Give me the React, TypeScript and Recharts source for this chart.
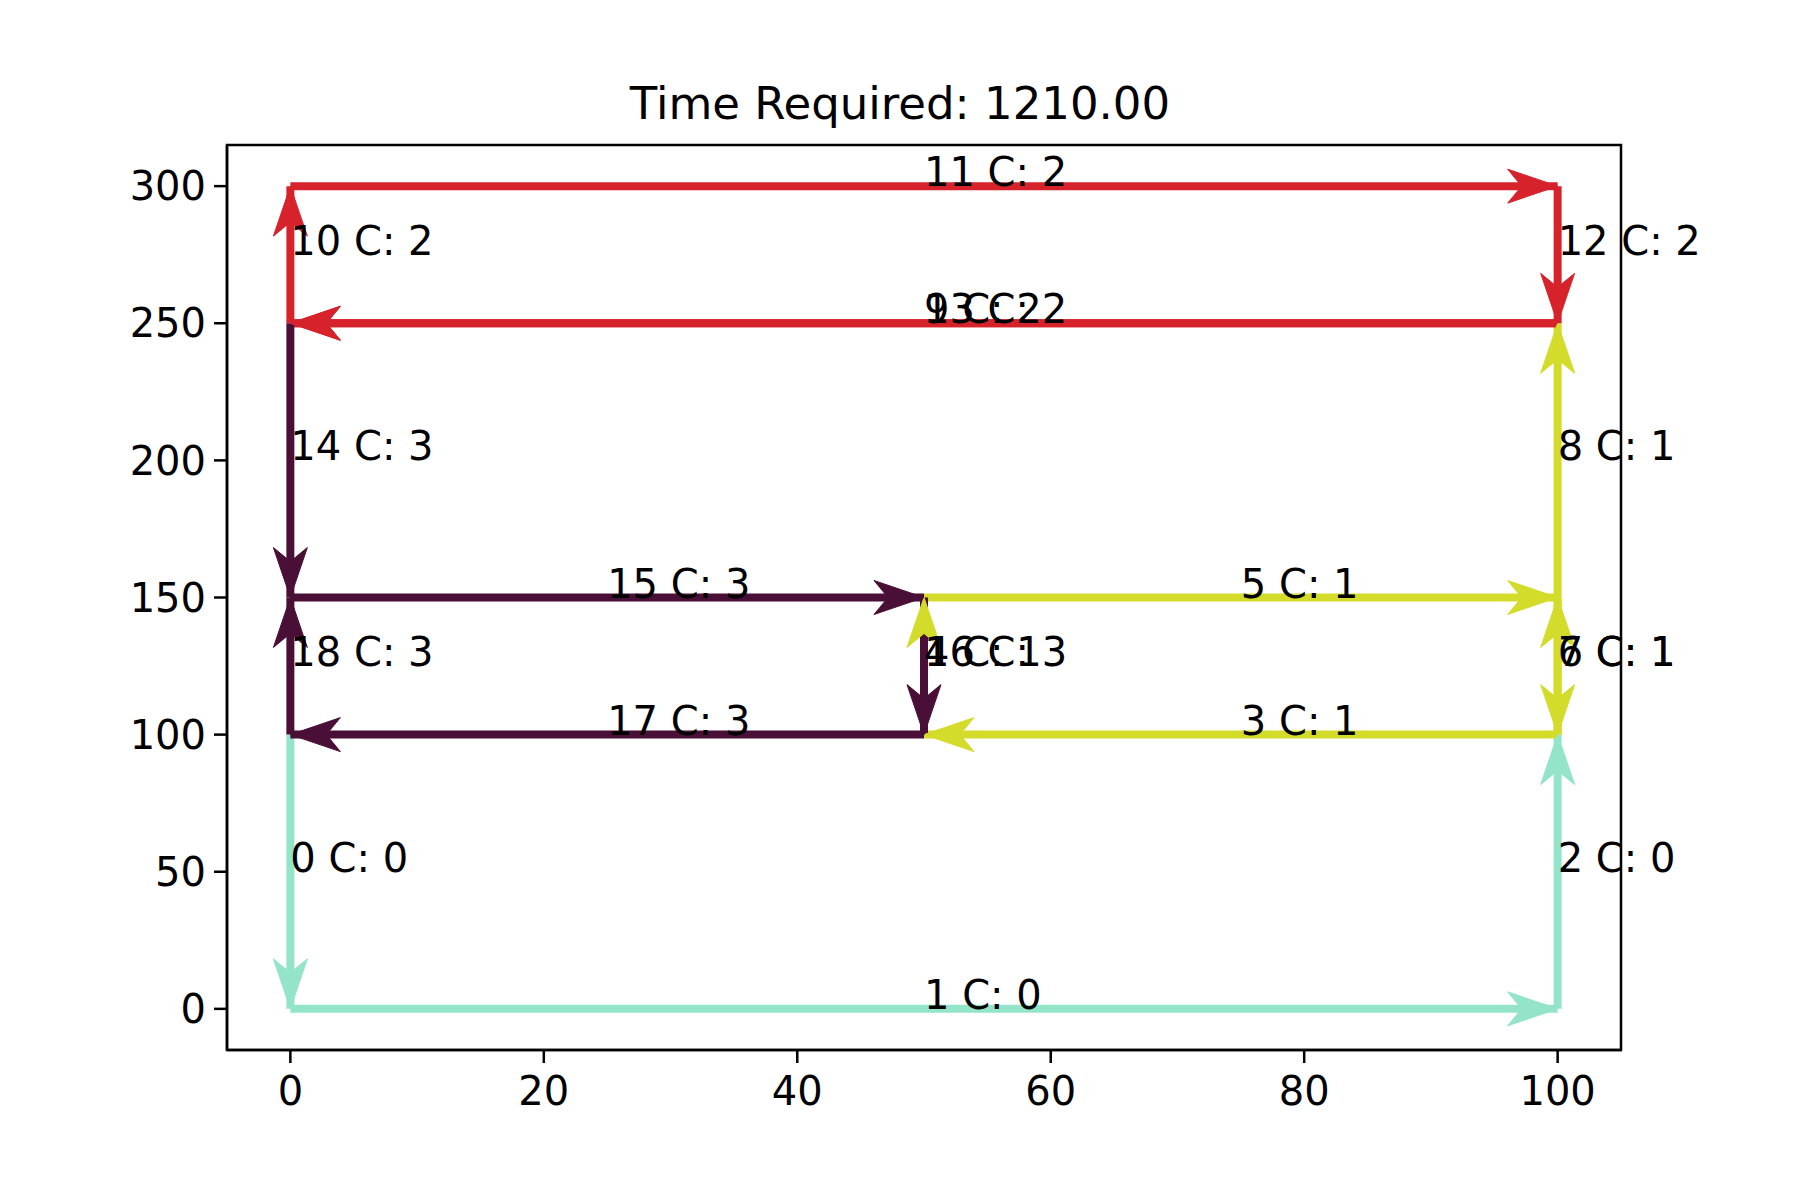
import React from 'react';
import { ComposedChart, Line, Scatter, XAxis, YAxis, ReferenceArea } from 'recharts';

const edgeIds = [0, 1, 2, 3, 4, 5, 6, 7, 8, 9, 10, 11, 12, 13, 14, 15, 16, 17, 18];
const edgeFrom: [number, number][] = [
  [0, 100], [0, 0], [100, 0], [100, 100], [50, 100], [50, 150], [100, 150], [100, 100], [100, 150], [100, 250],
  [0, 250], [0, 300], [100, 300], [100, 250], [0, 250], [0, 150], [50, 150], [50, 100], [0, 100],
];
const edgeTo: [number, number][] = [
  [0, 0], [100, 0], [100, 100], [50, 100], [50, 150], [100, 150], [100, 100], [100, 150], [100, 250], [0, 250],
  [0, 300], [100, 300], [100, 250], [0, 250], [0, 150], [50, 150], [50, 100], [0, 100], [0, 150],
];
const edgeCost = [0, 0, 0, 1, 1, 1, 1, 1, 1, 2, 2, 2, 2, 2, 3, 3, 3, 3, 3];
const costColors = ['#93e4c9', '#d3dc2a', '#d6232b', '#4a0f36'];
const xTicks = [0, 20, 40, 60, 80, 100];
const yTicks = [0, 50, 100, 150, 200, 250, 300];
const title = 'Time Required: 1210.00';

const FONT = 'DejaVu Sans';

const labelData = edgeIds.map((id) => ({
  x: (edgeFrom[id][0] + edgeTo[id][0]) / 2,
  y: (edgeFrom[id][1] + edgeTo[id][1]) / 2,
  label: `${id} C: ${edgeCost[id]}`,
}));

function arrowDot(id: number) {
  const dx = Math.sign(edgeTo[id][0] - edgeFrom[id][0]);
  const dy = -Math.sign(edgeTo[id][1] - edgeFrom[id][1]);
  const color = costColors[edgeCost[id]];
  return (props: any) => {
    const { cx, cy, index } = props;
    if (index !== 1 || cx == null) return <g key={`d${id}-${index}`} />;
    const L = 50, W = 17, N = 36;
    const px = -dy, py = dx;
    const bx = cx - dx * L, by = cy - dy * L;
    const nx = cx - dx * N, ny = cy - dy * N;
    const pts = [
      [cx, cy],
      [bx + px * W, by + py * W],
      [nx, ny],
      [bx - px * W, by - py * W],
    ].map((p) => p.join(',')).join(' ');
    return <polygon key={`d${id}-${index}`} points={pts} fill={color} stroke={color} strokeWidth={1} />;
  };
}

const LabelShape = (props: any) => {
  const { cx, cy, payload } = props;
  return (
    <text x={cx} y={cy} fontFamily={FONT} fontSize={40} fill="#000" textAnchor="start">
      {payload.label}
    </text>
  );
};

export default function App() {
  return (
    <div style={{ position: 'absolute', left: 0, top: 0, width: 1800, height: 1200, background: '#fff' }}>
      <div style={{ position: 'absolute', left: 0, top: 77, width: 1800, textAlign: 'center', fontFamily: FONT, fontSize: 45 }}>
        {title}
      </div>
      <ComposedChart width={1800} height={1200} margin={{ left: 137, right: 179, top: 145, bottom: 80 }}>
        <XAxis xAxisId="b" type="number" dataKey="x" domain={[-5, 105]} ticks={xTicks}
          stroke="#000" strokeWidth={2.5} tickSize={13} height={70}
          tick={{ fontFamily: FONT, fontSize: 40, fill: '#000', dy: 12 }} />
        <YAxis yAxisId="l" type="number" dataKey="y" domain={[-15, 315]} ticks={yTicks}
          stroke="#000" strokeWidth={2.5} tickSize={13} width={90}
          tick={{ fontFamily: FONT, fontSize: 40, fill: '#000', dx: -6 }} />
        <ReferenceArea xAxisId="b" yAxisId="l" x1={-5} x2={105} y1={-15} y2={315}
          fill="none" fillOpacity={0} stroke="#000" strokeWidth={2.5} ifOverflow="visible" />
        {edgeIds.map((id) => (
          <Line key={id} xAxisId="b" yAxisId="l" type="linear"
            data={[{ x: edgeFrom[id][0], y: edgeFrom[id][1] }, { x: edgeTo[id][0], y: edgeTo[id][1] }]}
            dataKey="y" stroke={costColors[edgeCost[id]]} strokeWidth={8}
            dot={arrowDot(id)} activeDot={false} isAnimationActive={false} />
        ))}
        <Scatter xAxisId="b" yAxisId="l" data={labelData} dataKey="y" shape={LabelShape} isAnimationActive={false} />
      </ComposedChart>
    </div>
  );
}
